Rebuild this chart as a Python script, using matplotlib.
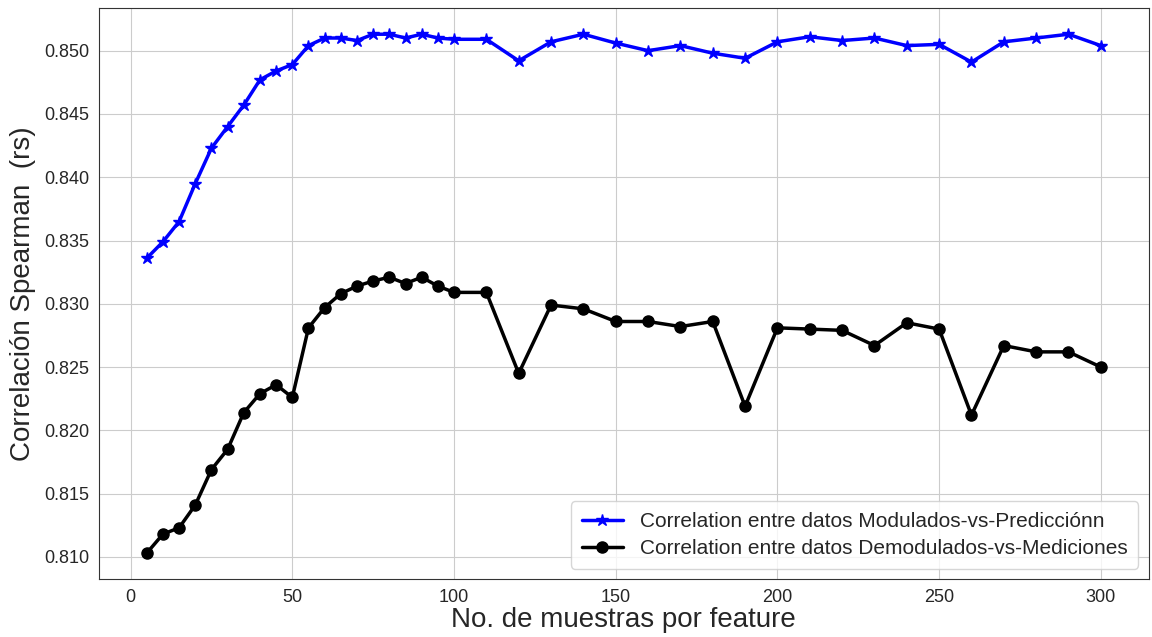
import matplotlib
matplotlib.use("Agg")
import matplotlib.pyplot as plt
from matplotlib.ticker import MultipleLocator, FormatStrFormatter
import seaborn as sns

# muestras por feature
x = [5, 10, 15, 20, 25, 30, 35, 40, 45, 50, 55, 60, 65, 70, 75, 80, 85, 90, 95, 100,
     110, 120, 130, 140, 150, 160, 170, 180, 190, 200, 210, 220, 230, 240, 250,
     260, 270, 280, 290, 300]

# Modulados vs Prediccion
rs_mod = [0.8336, 0.8349, 0.8365, 0.8395, 0.8423, 0.8440, 0.8457, 0.8477, 0.8484, 0.8489,
          0.8504, 0.8510, 0.8510, 0.8508, 0.8513, 0.8513, 0.8510, 0.8513, 0.8510, 0.8509,
          0.8509, 0.8492, 0.8507, 0.8513, 0.8506, 0.8500, 0.8504, 0.8498, 0.8494, 0.8507,
          0.8511, 0.8508, 0.8510, 0.8504, 0.8505, 0.8491, 0.8507, 0.8510, 0.8513, 0.8504]

# Demodulados vs Mediciones
rs_demod = [0.8103, 0.8118, 0.8123, 0.8141, 0.8169, 0.8185, 0.8214, 0.8229, 0.8236, 0.8226,
            0.8281, 0.8297, 0.8308, 0.8314, 0.8318, 0.8321, 0.8316, 0.8321, 0.8314, 0.8309,
            0.8309, 0.8245, 0.8299, 0.8296, 0.8286, 0.8286, 0.8282, 0.8286, 0.8219, 0.8281,
            0.8280, 0.8279, 0.8267, 0.8285, 0.8280, 0.8212, 0.8267, 0.8262, 0.8262, 0.8250]

sns.set_style("whitegrid")
plt.rcParams["font.family"] = ["Liberation Sans", "DejaVu Sans"]
plt.rcParams["axes.edgecolor"] = "0.2"
plt.rcParams["text.color"] = "0.15"
plt.rcParams["xtick.color"] = "0.15"
plt.rcParams["ytick.color"] = "0.15"

fig, ax = plt.subplots(figsize=(11.52, 6.37), dpi=100)
fig.subplots_adjust(left=0.086, right=0.997, top=0.987, bottom=0.091)

ax.plot(x, rs_mod, color="blue", marker="*", markersize=9, linewidth=2.5,
        label="Correlation entre datos Modulados-vs-Predicciónn")
ax.plot(x, rs_demod, color="black", marker="o", markersize=8, linewidth=2.5,
        label="Correlation entre datos Demodulados-vs-Mediciones")

ax.yaxis.set_major_locator(MultipleLocator(0.005))
ax.yaxis.set_major_formatter(FormatStrFormatter("%.3f"))

ax.set_xlabel("No. de muestras por feature", fontsize=20, labelpad=1)
ax.set_ylabel("Correlación Spearman  (rs)", fontsize=20, labelpad=6)
ax.tick_params(labelsize=13)
ax.legend(loc="lower right", fontsize=15, handlelength=2.0, borderpad=0.5,
          labelspacing=0.4)

plt.savefig("out.png")
plt.close()
